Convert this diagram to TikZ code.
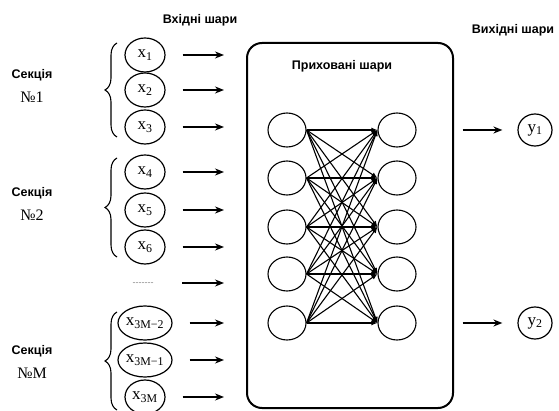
\documentclass[tikz,border=0pt]{standalone}
\usepackage{fontspec}
\setmainfont{Liberation Serif}
\setsansfont{Liberation Sans}
\usetikzlibrary{arrows.meta,shapes.geometric,decorations.pathreplacing}

\tikzset{
  title/.style={font=\fontsize{12.5}{14}\selectfont\sffamily\bfseries},
  sect/.style={font=\fontsize{12.5}{14}\selectfont\sffamily\bfseries},
  num/.style={font=\fontsize{16}{18}\selectfont},
  inp/.style={draw,ellipse,line width=1.2pt,minimum width=40pt,minimum height=34pt,inner sep=0pt,font=\fontsize{17}{19}\selectfont},
  neuron/.style={draw,ellipse,line width=1.1pt,minimum width=38pt,minimum height=34pt,inner sep=0pt},
  outp/.style={draw,ellipse,line width=1.2pt,minimum width=34pt,minimum height=32pt,inner sep=0pt,font=\fontsize{17}{19}\selectfont},
  arr/.style={-{Stealth[length=9pt,width=7pt]},line width=1.5pt},
  link/.style={-{Latex[length=6pt,width=5pt]},line width=1.1pt},
  brc/.style={decorate,decoration={brace,amplitude=12pt},line width=1.1pt}
}

\begin{document}
\begin{tikzpicture}[x=1pt,y=-1pt]
    \useasboundingbox (0,0) rectangle (559,411);
    % labels
    \node[title] (tin) at (200,20) {Вхідні шари};
    \node[title] (tout) at (513,30) {Вихідні шари};
    \foreach \n/\y/\k in {1/75/1, 2/193/2, 3/351/M}{
        \node[sect] (s\n) at (32,\y) {Секція};
        \node[num] (n\n) at (32,\y+22) {№\k};
    }
    % hidden box
    \node[draw,line width=2pt,rounded corners=15pt,minimum width=206pt,minimum height=365pt] (box) at (350,225.5) {};
    \node[title] (thid) at (342,66) {Приховані шари};
    % inputs
    \foreach \i/\y/\t in {1/55/1, 2/90/2, 3/127/3, 4/172/4, 5/210/5, 6/247/6, 7/323/3M−2, 8/360/3M−1, 9/397/3M}
        \node[inp] (x\i) at (145,\y) {x\textsubscript{\t}};
    \node[minimum width=40pt,inner sep=0pt,font=\fontsize{6}{6}\selectfont] (dots) at (143,283) {..............};
    \foreach \i in {1,...,9}
        \draw[arr,shorten <=17pt,shorten >=22pt] (x\i.east) -- (x\i.east -| box.west);
    \draw[arr,shorten <=19pt,shorten >=22pt] (dots.east) -- (dots.east -| box.west);
    % braces
    \draw[brc] (117,137) -- (117,43);
    \draw[brc] (117,257) -- (117,158);
    \draw[brc] (117,410) -- (117,312);
    % hidden layers
    \foreach \i/\y in {1/130, 2/178, 3/227, 4/274, 5/323}{
        \node[neuron] (h\i) at (287,\y) {};
        \node[neuron] (r\i) at (397,\y) {};
    }
    \foreach \i in {1,...,5}
        \foreach \j in {1,...,5}
            \draw[link] (h\i.east) -- (r\j.west);
    % outputs
    \node[outp] (o1) at (535,130) {y\textsubscript{1}};
    \node[outp] (o2) at (535,323) {y\textsubscript{2}};
    \draw[arr,shorten <=46pt,shorten >=15pt] (r1.east) -- (o1.west);
    \draw[arr,shorten <=46pt,shorten >=15pt] (r5.east) -- (o2.west);
\end{tikzpicture}
\end{document}
